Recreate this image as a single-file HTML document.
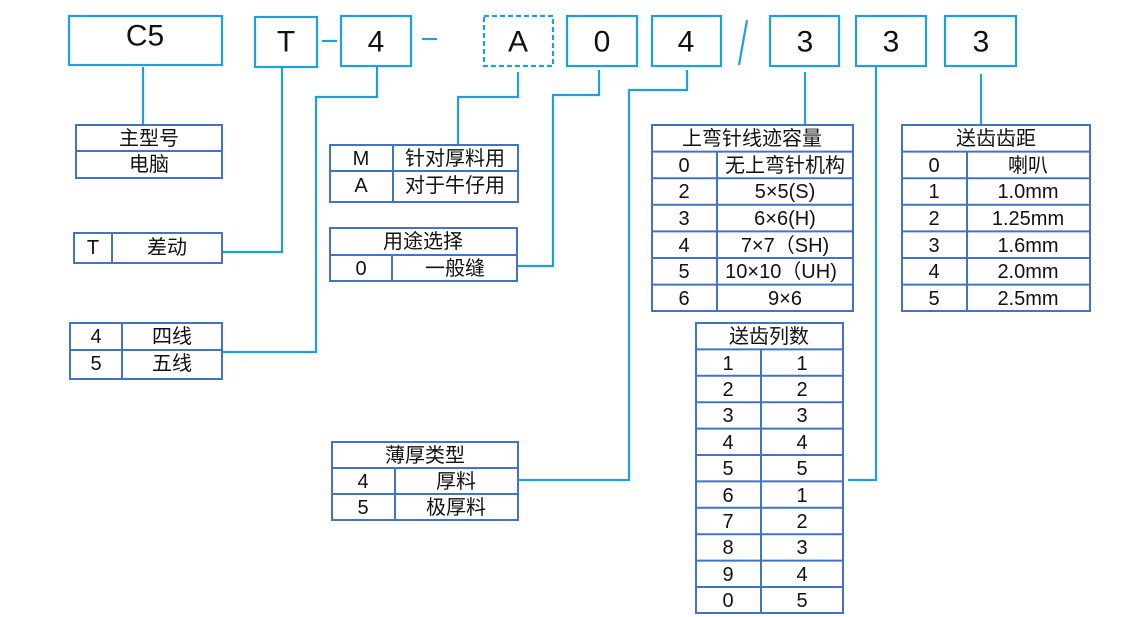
<!DOCTYPE html>
<html><head><meta charset="utf-8"><style>
html,body{margin:0;padding:0;background:#fff;width:1132px;height:617px;overflow:hidden}
svg{display:block}
text{font-family:"Liberation Sans","Noto Sans CJK SC",sans-serif;fill:#111;dominant-baseline:central;text-anchor:middle}
.b{fill:none;stroke:#1fa0dc;stroke-width:2.2}
.c{fill:none;stroke:#1fa0dc;stroke-width:2.2}
.t{fill:none;stroke:#4472c4;stroke-width:2}
.big{font-size:30px}
.s{font-size:20px}
</style></head><body>
<svg width="1132" height="617" viewBox="0 0 1132 617">
<rect class="b" x="69" y="16" width="153" height="49"/><text class="big" x="145" y="36">C5</text>
<rect class="b" x="255" y="17" width="62" height="50"/><text class="big" x="286" y="42">T</text>
<line class="c" x1="322" y1="41" x2="337" y2="41"/>
<rect class="b" x="341" y="16" width="70" height="50"/><text class="big" x="376" y="42">4</text>
<line class="c" x1="422" y1="39" x2="437" y2="39"/>
<rect class="b" x="484" y="16" width="69" height="50" stroke-dasharray="5,3"/><text class="big" x="518" y="42">A</text>
<rect class="b" x="567" y="16" width="70" height="50"/><text class="big" x="602" y="42">0</text>
<rect class="b" x="652" y="16" width="69" height="50"/><text class="big" x="686" y="42">4</text>
<line class="c" x1="747" y1="20" x2="739" y2="65"/>
<rect class="b" x="770" y="16" width="69" height="50"/><text class="big" x="805" y="42">3</text>
<rect class="b" x="856" y="16" width="70" height="50"/><text class="big" x="891" y="42">3</text>
<rect class="b" x="945" y="16" width="71" height="50"/><text class="big" x="981" y="42">3</text>
<polyline class="c" points="143,67 143,125"/>
<polyline class="c" points="282,67 282,252 222,252"/>
<polyline class="c" points="377,67 377,97 316,97 316,352 222,352"/>
<polyline class="c" points="518,72 518,97 458,97 458,145"/>
<polyline class="c" points="599,70 599,95 553,95 553,266 517,266"/>
<polyline class="c" points="687,70 687,90 629,90 629,480 518,480"/>
<polyline class="c" points="805,72 805,125"/>
<polyline class="c" points="876,66 876,480 848,480"/>
<polyline class="c" points="981,74 981,125"/>
<rect class="t" x="76" y="125" width="146" height="53"/>
<line class="t" x1="76" y1="151" x2="222" y2="151"/>
<text class="s" x="149" y="139">主型号</text><text class="s" x="149" y="165">电脑</text>
<rect class="t" x="74" y="233" width="148" height="30"/>
<line class="t" x1="112" y1="233" x2="112" y2="263"/>
<text class="s" x="93" y="248">T</text><text class="s" x="167" y="248">差动</text>
<rect class="t" x="70" y="323" width="152" height="56"/>
<line class="t" x1="70" y1="350" x2="222" y2="350"/>
<line class="t" x1="122" y1="323" x2="122" y2="379"/>
<text class="s" x="96" y="337">4</text><text class="s" x="172" y="337">四线</text>
<text class="s" x="96" y="364">5</text><text class="s" x="172" y="364">五线</text>
<rect class="t" x="330" y="145" width="188" height="57"/>
<line class="t" x1="330" y1="171" x2="518" y2="171"/>
<line class="t" x1="393" y1="145" x2="393" y2="202"/>
<text class="s" x="361" y="159">M</text><text class="s" x="455" y="159">针对厚料用</text>
<text class="s" x="361" y="186">A</text><text class="s" x="455" y="186">对于牛仔用</text>
<rect class="t" x="330" y="228" width="187" height="53"/>
<line class="t" x1="330" y1="255" x2="517" y2="255"/>
<line class="t" x1="392" y1="255" x2="392" y2="281"/>
<text class="s" x="423" y="242">用途选择</text>
<text class="s" x="361" y="269">0</text><text class="s" x="455" y="269">一般缝</text>
<rect class="t" x="332" y="442" width="186" height="78"/>
<line class="t" x1="332" y1="468" x2="518" y2="468"/>
<line class="t" x1="332" y1="494" x2="518" y2="494"/>
<line class="t" x1="395" y1="468" x2="395" y2="520"/>
<text class="s" x="425" y="456">薄厚类型</text>
<text class="s" x="363" y="482">4</text><text class="s" x="456" y="482">厚料</text>
<text class="s" x="363" y="508">5</text><text class="s" x="456" y="508">极厚料</text>
<rect class="t" x="652" y="125" width="201" height="186"/>
<line class="t" x1="652" y1="151.6" x2="853" y2="151.6"/>
<line class="t" x1="652" y1="178.2" x2="853" y2="178.2"/>
<line class="t" x1="652" y1="204.8" x2="853" y2="204.8"/>
<line class="t" x1="652" y1="231.4" x2="853" y2="231.4"/>
<line class="t" x1="652" y1="258" x2="853" y2="258"/>
<line class="t" x1="652" y1="284.6" x2="853" y2="284.6"/>
<line class="t" x1="717" y1="151.6" x2="717" y2="311"/>
<text class="s" x="752" y="139">上弯针线迹容量</text>
<text class="s" x="684" y="166">0</text><text class="s" x="785" y="166">无上弯针机构</text>
<text class="s" x="684" y="192">2</text><text class="s" x="785" y="192">5×5(S)</text>
<text class="s" x="684" y="219">3</text><text class="s" x="785" y="219">6×6(H)</text>
<text class="s" x="684" y="246">4</text><text class="s" x="785" y="246">7×7（SH)</text>
<text class="s" x="684" y="272">5</text><text class="s" x="781" y="272">10×10（UH)</text>
<text class="s" x="684" y="299">6</text><text class="s" x="785" y="299">9×6</text>
<rect class="t" x="902" y="125" width="188" height="186"/>
<line class="t" x1="902" y1="151.6" x2="1090" y2="151.6"/>
<line class="t" x1="902" y1="178.2" x2="1090" y2="178.2"/>
<line class="t" x1="902" y1="204.8" x2="1090" y2="204.8"/>
<line class="t" x1="902" y1="231.4" x2="1090" y2="231.4"/>
<line class="t" x1="902" y1="258" x2="1090" y2="258"/>
<line class="t" x1="902" y1="284.6" x2="1090" y2="284.6"/>
<line class="t" x1="967" y1="151.6" x2="967" y2="311"/>
<text class="s" x="996" y="139">送齿齿距</text>
<text class="s" x="934" y="166">0</text><text class="s" x="1028" y="166">喇叭</text>
<text class="s" x="934" y="192">1</text><text class="s" x="1028" y="192">1.0mm</text>
<text class="s" x="934" y="219">2</text><text class="s" x="1028" y="219">1.25mm</text>
<text class="s" x="934" y="246">3</text><text class="s" x="1028" y="246">1.6mm</text>
<text class="s" x="934" y="272">4</text><text class="s" x="1028" y="272">2.0mm</text>
<text class="s" x="934" y="299">5</text><text class="s" x="1028" y="299">2.5mm</text>
<rect class="t" x="696" y="323" width="147" height="290"/>
<line class="t" x1="696" y1="349.4" x2="843" y2="349.4"/>
<line class="t" x1="696" y1="375.8" x2="843" y2="375.8"/>
<line class="t" x1="696" y1="402.2" x2="843" y2="402.2"/>
<line class="t" x1="696" y1="428.6" x2="843" y2="428.6"/>
<line class="t" x1="696" y1="455" x2="843" y2="455"/>
<line class="t" x1="696" y1="481.4" x2="843" y2="481.4"/>
<line class="t" x1="696" y1="507.8" x2="843" y2="507.8"/>
<line class="t" x1="696" y1="534.2" x2="843" y2="534.2"/>
<line class="t" x1="696" y1="560.6" x2="843" y2="560.6"/>
<line class="t" x1="696" y1="587" x2="843" y2="587"/>
<line class="t" x1="761" y1="349.4" x2="761" y2="613"/>
<text class="s" x="769" y="337">送齿列数</text>
<text class="s" x="728" y="364">1</text><text class="s" x="802" y="364">1</text>
<text class="s" x="728" y="390">2</text><text class="s" x="802" y="390">2</text>
<text class="s" x="728" y="416">3</text><text class="s" x="802" y="416">3</text>
<text class="s" x="728" y="443">4</text><text class="s" x="802" y="443">4</text>
<text class="s" x="728" y="469">5</text><text class="s" x="802" y="469">5</text>
<text class="s" x="728" y="496">6</text><text class="s" x="802" y="496">1</text>
<text class="s" x="728" y="522">7</text><text class="s" x="802" y="522">2</text>
<text class="s" x="728" y="548">8</text><text class="s" x="802" y="548">3</text>
<text class="s" x="728" y="575">9</text><text class="s" x="802" y="575">4</text>
<text class="s" x="728" y="601">0</text><text class="s" x="802" y="601">5</text>
</svg>
</body></html>
